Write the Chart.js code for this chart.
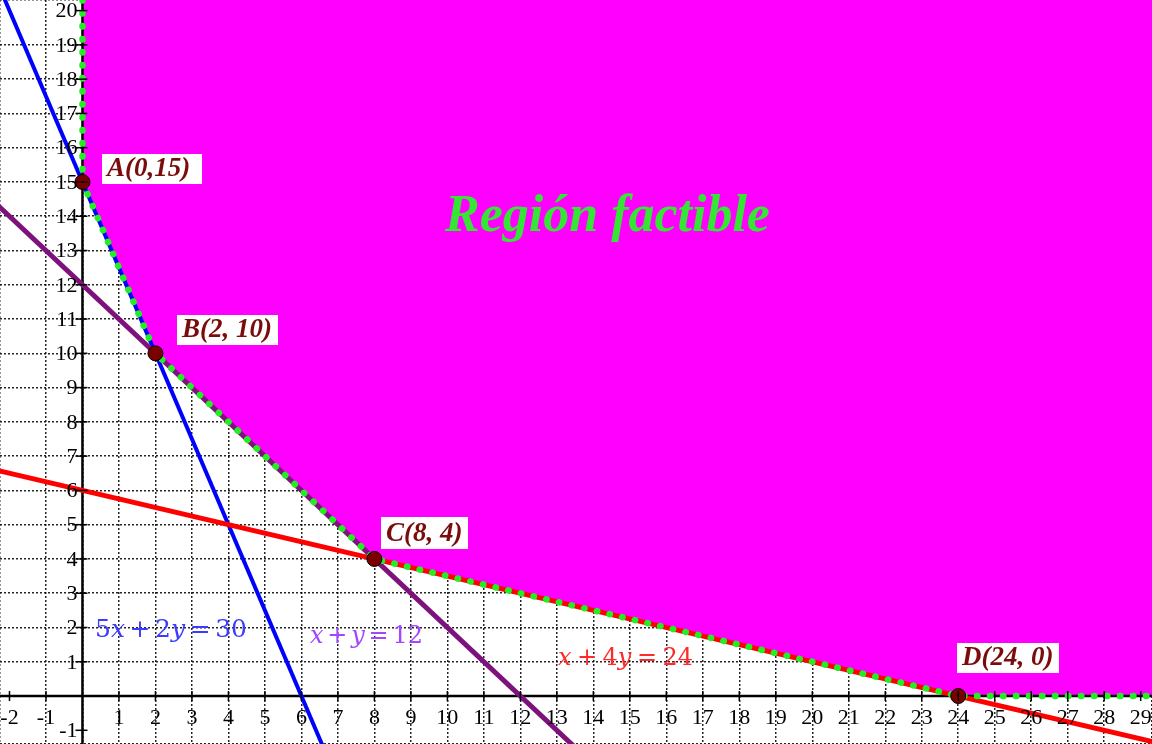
<!DOCTYPE html>
<html>
<head>
<meta charset="utf-8">
<script src="https://cdn.jsdelivr.net/npm/chart.js@4/dist/chart.umd.min.js"></script>
<style>
  html, body { margin: 0; padding: 0; background: #fff; }
  #wrap { width: 1152px; height: 744px; }
</style>
</head>
<body>
<div id="wrap"><canvas id="chart" width="1152" height="744"></canvas></div>
<script>
// axis ranges and tick labels
const xRange = [-2.26, 29.31];
const yRange = [-1.40, 20.31];
const xTicks = [-2, -1, 1, 2, 3, 4, 5, 6, 7, 8, 9, 10, 11, 12, 13, 14, 15, 16, 17, 18, 19, 20, 21, 22, 23, 24, 25, 26, 27, 28, 29];
const yTicks = [-1, 1, 2, 3, 4, 5, 6, 7, 8, 9, 10, 11, 12, 13, 14, 15, 16, 17, 18, 19, 20];

// constraint lines (end points)
const lineBlue = [{ x: -2.2, y: 20.5 }, { x: 6.6, y: -1.5 }];     // 5x + 2y = 30
const linePurple = [{ x: -2.4, y: 14.4 }, { x: 13.5, y: -1.5 }];  // x + y = 12
const lineRed = [{ x: -2.4, y: 6.6 }, { x: 30, y: -1.5 }];        // x + 4y = 24

// coordinate axes
const axisX = [{ x: -3, y: 0 }, { x: 30, y: 0 }];
const axisY = [{ x: 0, y: -2 }, { x: 0, y: 21 }];

// border of the feasible region
const feasibleEdge = [
  { x: 0, y: 20.31 }, { x: 0, y: 15 }, { x: 2, y: 10 },
  { x: 8, y: 4 }, { x: 24, y: 0 }, { x: 29.31, y: 0 }
];

// vertices
const vertexNames = ["A(0,15)", "B(2, 10)", "C(8, 4)", "D(24, 0)"];
const vertices = [{ x: 0, y: 15 }, { x: 2, y: 10 }, { x: 8, y: 4 }, { x: 24, y: 0 }];

const SERIF = '"Liberation Serif", "DejaVu Serif", serif';
const MATH = '"DejaVu Serif", serif';

// math label: pieces [text, italic], spread evenly around the operators to a given width
function drawEquation(ctx, parts, x, y, width, color, size) {
  ctx.fillStyle = color;
  ctx.textBaseline = "alphabetic";
  ctx.textAlign = "left";
  const fontOf = it => (it ? "italic " : "") + size + "px " + MATH;
  let glyphs = 0, gaps = 0;
  parts.forEach(([t, it]) => {
    ctx.font = fontOf(it);
    glyphs += ctx.measureText(t).width;
    if (t === "+" || t === "=") gaps += 2;
  });
  const gap = Math.max(0, (width - glyphs) / gaps);
  let cx = x;
  parts.forEach(([t, it]) => {
    const op = t === "+" || t === "=";
    if (op) cx += gap;
    ctx.font = fontOf(it);
    ctx.fillText(t, cx, y);
    cx += ctx.measureText(t).width;
    if (op) cx += gap;
  });
}

const overlay = {
  id: "overlay",
  afterDatasetsDraw(chart) {
    const ctx = chart.ctx;
    const xs = chart.scales.x, ys = chart.scales.y;
    const x0 = xs.getPixelForValue(0), y0 = ys.getPixelForValue(0);
    ctx.save();

    // tick marks + labels
    ctx.strokeStyle = "#000";
    ctx.lineWidth = 1.5;
    ctx.font = "22px " + SERIF;
    ctx.fillStyle = "#000";
    ctx.textAlign = "center";
    ctx.textBaseline = "middle";
    xTicks.forEach(v => {
      const px = xs.getPixelForValue(v);
      ctx.beginPath(); ctx.moveTo(px, y0 - 5); ctx.lineTo(px, y0 + 5); ctx.stroke();
      ctx.fillText(String(v), px, y0 + 22);
    });
    ctx.textAlign = "right";
    yTicks.forEach(v => {
      const py = ys.getPixelForValue(v);
      ctx.beginPath(); ctx.moveTo(x0 - 7, py); ctx.lineTo(x0 + 5, py); ctx.stroke();
      ctx.fillText(String(v), x0 - 5, py + 1);
    });

    // vertex labels in white boxes
    const boxes = [
      [102, 154, 100, 30], [177, 315, 101, 30], [381, 517, 87, 32], [957, 643, 102, 30]
    ];
    ctx.font = "italic bold 27px " + SERIF;
    ctx.textAlign = "left";
    ctx.textBaseline = "alphabetic";
    vertexNames.forEach((name, i) => {
      const [bx, by, bw, bh] = boxes[i];
      ctx.fillStyle = "#fff";
      ctx.fillRect(bx, by, bw, bh);
      ctx.fillStyle = "#7a0c0c";
      ctx.fillText(name, bx + 5, by + bh - 8);
    });

    // equation labels
    drawEquation(ctx, [["5", false], ["x", true], ["+", false], ["2", false], ["y", true], ["=", false], ["30", false]],
      95, 637, 152, "#3c3cff", 25);
    drawEquation(ctx, [["x", true], ["+", false], ["y", true], ["=", false], ["12", false]],
      310, 643, 113, "#a246ff", 24);
    drawEquation(ctx, [["x", true], ["+", false], ["4", false], ["y", true], ["=", false], ["24", false]],
      558, 665, 135, "#ff2a2a", 24);

    // title of the region
    ctx.font = "italic bold 52px " + SERIF;
    ctx.fillStyle = "#35e635";
    ctx.fillText("Región factible", 445, 231);

    ctx.restore();
  }
};

const line = (data, color, width, order) => ({
  data, showLine: true, pointRadius: 0, borderColor: color, borderWidth: width, fill: false, order
});

new Chart(document.getElementById("chart"), {
  type: "scatter",
  data: {
    datasets: [
      { data: vertices, pointRadius: 7.5, pointBackgroundColor: "#7a0000", pointBorderColor: "#000",
        pointBorderWidth: 1, showLine: false, order: 0 },
      Object.assign(line(feasibleEdge.map(p => ({ ...p })), "#22ee22", 6.5, 1),
        { borderDash: [0.5, 12.5], borderCapStyle: "round" }),
      line(lineRed, "#ff0000", 5, 2),
      line(linePurple, "#7d127d", 5, 3),
      line(lineBlue, "#0000ff", 4, 4),
      line(axisX, "#000", 2.5, 5),
      line(axisY, "#000", 2.5, 6),
      { data: feasibleEdge.map(p => ({ ...p })), showLine: true, pointRadius: 0, borderWidth: 0,
        borderColor: "rgba(0,0,0,0)", backgroundColor: "#ff00ff", fill: "end", order: 7 }
    ]
  },
  options: {
    responsive: false,
    animation: false,
    layout: { padding: 0, autoPadding: false },
    plugins: { legend: { display: false }, tooltip: { enabled: false } },
    scales: {
      x: {
        type: "linear", min: xRange[0], max: xRange[1], z: 1,
        ticks: { display: false, stepSize: 1 },
        grid: { color: "rgba(0,0,0,0.85)", lineWidth: 1.5, drawTicks: false },
        border: { display: false, dash: [2, 2] }
      },
      y: {
        type: "linear", min: yRange[0], max: yRange[1], z: 1,
        ticks: { display: false, stepSize: 1 },
        grid: { color: "rgba(0,0,0,0.85)", lineWidth: 1.5, drawTicks: false },
        border: { display: false, dash: [2, 2] }
      }
    }
  },
  plugins: [overlay]
});
</script>
</body>
</html>
